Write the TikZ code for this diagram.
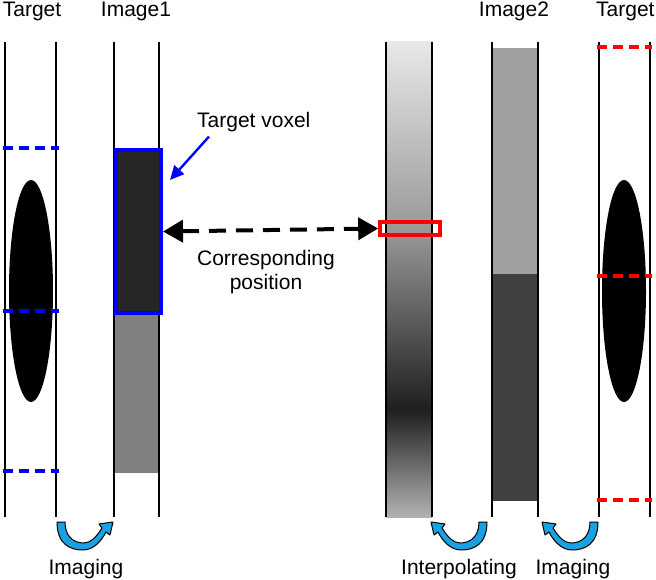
\documentclass[tikz,border=0pt]{standalone}
\usepackage{fontspec}
\setmainfont{Liberation Sans}
\usetikzlibrary{arrows.meta}

\definecolor{arrowcyan}{RGB}{27,161,226}
\definecolor{voxeldark}{RGB}{38,38,38}
\definecolor{voxelgray}{RGB}{128,128,128}
\definecolor{imglight}{RGB}{160,160,160}
\definecolor{imgdark}{RGB}{64,64,64}

\tikzset{
  wall/.style={line width=2pt, black},
  txt/.style={font=\fontsize{21}{25}\selectfont, inner sep=0pt},
  bluecut/.style={blue, line width=3.8pt, dash pattern=on 10pt off 6pt},
  redcut/.style={red, line width=3.8pt, dash pattern=on 10pt off 6pt},
  bendarrow/.pic={
    \filldraw[fill=arrowcyan, draw=black, line width=1pt, line join=round]
      (0,0) .. controls (0,23) and (14,28) .. (26,28)
      .. controls (37,28) and (45,18) .. (49,10)
      -- (53,13) -- (56,0) -- (42,2) -- (45,6)
      .. controls (40,14) and (34,21) .. (27,21)
      .. controls (16,21) and (8,14) .. (8,0) -- cycle;
  }
}

\begin{document}
\begin{tikzpicture}[x=1pt, y=-1pt]
  \useasboundingbox (0,0) rectangle (656,580);

  % Target (left)
  \fill[black] (31,291) ellipse [x radius=22pt, y radius=111pt];
  \draw[wall] (5,42) -- (5,517);
  \draw[wall] (56,42) -- (56,517);
  \foreach \y in {148, 311, 471} {
    \draw[bluecut] (3,\y) -- (59,\y);
  }
  \node[txt, anchor=base] (tgtl) at (32,17) {Target};

  % Image1
  \fill[voxelgray] (114,311) rectangle (159,473);
  \draw[wall] (114,42) -- (114,517);
  \draw[wall] (159,42) -- (159,517);
  \node[draw=blue, line width=4pt, fill=voxeldark, minimum width=45pt,
        minimum height=163pt, inner sep=0pt, anchor=north west] (voxel) at (114,148) {};
  \node[txt, anchor=base] (img1) at (136,17) {Image1};

  % Target voxel label
  \node[txt, anchor=base west] (voxtext) at (197,128) {Target voxel};
  \coordinate (voxtip) at (170,180);
  \draw[blue, line width=2.4pt, -{Triangle[length=14pt, width=13pt]}]
    ([xshift=12pt, yshift=-4pt]voxtext.south west) -- (voxtip);

  % Interpolated profile
  \shade[top color=black!9, bottom color=black!40] (386,42) rectangle (432,229);
  \shade[top color=black!40, bottom color=black!88] (386,229) rectangle (432,410);
  \shade[top color=black!88, bottom color=black!30] (386,410) rectangle (432,517);
  \draw[wall] (386,42) -- (386,517);
  \draw[wall] (432,42) -- (432,517);
  \node[draw=red, line width=3.6pt, minimum width=60pt, minimum height=13pt,
        inner sep=0pt] (corr) at (410,228.5) {};

  % Corresponding position
  \draw[line width=4pt, dash pattern=on 17pt off 10pt,
        {Triangle[length=20pt, width=22pt]}-{Triangle[length=20pt, width=22pt]}]
    (voxel.east) -- (corr.west);
  \node[txt, align=center, anchor=north] (corrtext) at (266,250)
    {Corresponding\\[-1pt]position};

  % Image2
  \fill[imglight] (492,48) rectangle (538,274);
  \fill[imgdark] (492,274) rectangle (538,501);
  \draw[wall] (492,42) -- (492,517);
  \draw[wall] (538,42) -- (538,517);
  \node[txt, anchor=base] (img2) at (514,17) {Image2};

  % Target (right)
  \fill[black] (624,291) ellipse [x radius=22pt, y radius=111pt];
  \draw[wall] (599,42) -- (599,517);
  \draw[wall] (650,42) -- (650,517);
  \foreach \y in {47, 276, 500} {
    \draw[redcut] (597,\y) -- (652,\y);
  }
  \node[txt, anchor=base west] (tgtr) at (596,17) {Target};

  % Curved arrows
  \pic at (57,522) {bendarrow};
  \pic[xscale=-1] at (487,522) {bendarrow};
  \pic[xscale=-1] at (598,522) {bendarrow};
  \node[txt, anchor=base] (imgl) at (86,574) {Imaging};
  \node[txt, anchor=base] (interp) at (459,574) {Interpolating};
  \node[txt, anchor=base] (imgr) at (573,574) {Imaging};
\end{tikzpicture}
\end{document}
